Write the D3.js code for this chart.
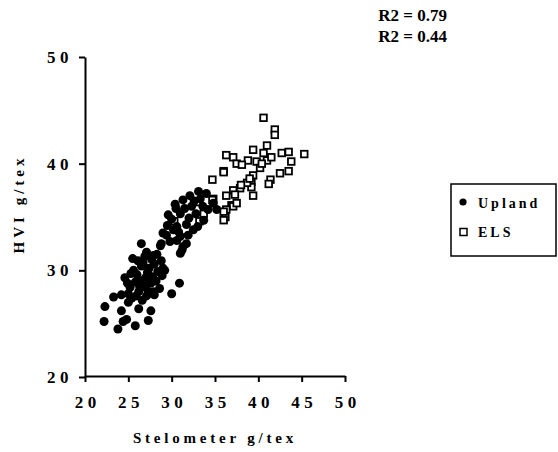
<!DOCTYPE html>
<html>
<head>
<meta charset="utf-8">
<script src="https://cdn.jsdelivr.net/npm/d3@7"></script>
<style>
  html, body { margin: 0; padding: 0; background: #fff; }
  svg text { font-family: "Liberation Serif", "DejaVu Serif", serif; font-weight: bold; fill: #000; }
</style>
</head>
<body>
<svg id="chart" width="558" height="452"></svg>
<script>
// Stelometer (x) vs HVI (y) bundle strength, g/tex
const uplandX = [22.2,22.3,23.3,23.8,24.2,24.4,24.8,25.8,27.3,27.6,26.2,25.0,25.4,24.2,25.0,26.2,27.3,27.9,30.0,30.9,
  24.6,25.2,25.6,25.5,25.8,26.0,26.3,26.5,26.7,26.8,27.0,27.2,27.4,27.6,27.8,28.0,28.2,28.4,28.6,28.8,29.2,25.9,26.6,27.1,28.0,26.9,27.7,28.3,24.9,25.3,26.1,27.0,27.5,28.9,26.4,
  26.5,27.1,27.9,28.7,31.0,29.0,29.4,30.6,31.2,31.7,29.0,29.6,31.3,33.1,34.0,32.3,31.0,30.6,31.7,32.5,33.7,34.2,28.8,29.8,31.0,31.3,33.3,34.8,35.2,30.2,30.0,30.5,31.5,32.0,32.8,33.0,32.1,30.4,29.5,30.8,31.9,33.6,32.6];
const uplandY = [25.2,26.6,27.5,24.5,26.2,25.2,25.4,24.8,25.3,26.2,26.4,27.0,27.4,27.7,27.8,28.0,28.0,28.0,27.8,28.8,
  29.3,28.4,30.0,31.1,28.9,29.6,28.5,30.4,30.7,29.1,28.4,29.8,30.2,28.8,29.4,30.6,29.0,29.9,28.3,30.9,30.0,27.6,27.2,27.6,27.7,31.3,31.0,31.5,28.8,29.7,30.9,29.3,27.9,29.5,29.0,
  32.5,31.7,31.4,32.3,31.6,30.2,33.3,32.8,31.9,32.5,33.5,35.2,36.6,37.4,37.2,36.0,35.3,34.1,34.3,33.8,34.7,35.7,32.5,32.7,33.2,32.2,36.7,36.3,35.7,33.8,34.8,35.8,35.8,34.9,35.3,34.1,37.0,36.2,34.2,33.6,33.3,36.0,36.5];

const elsX = [40.6,41.9,41.9,41.0,39.4,42.7,43.5,45.3,43.8,36.3,37.1,37.5,38.8,39.8,41.0,41.5,40.6,40.2,38.1,36.0,39.4,42.5,43.5,39.2,41.4,41.2,34.7,39.2,37.1,37.9,36.3,37.3,39.4,34.8,36.9,37.1,36.3,36.2,38.7,39.0,30.3,33.2,33.7,32.9,34.7,36.0,36.0,36.0,37.5,38.0,40.4];
const elsY = [44.3,43.2,42.7,41.7,41.3,41.0,41.1,40.9,40.2,40.8,40.6,40.0,40.3,40.2,40.3,40.6,41.0,39.6,39.9,39.3,38.9,39.1,39.3,38.3,38.5,38.1,38.5,37.8,37.5,37.7,37.0,37.1,37.0,36.7,36.1,36.0,35.7,35.0,38.2,38.6,34.6,34.6,35.3,36.4,36.6,35.5,34.7,39.2,36.3,38.0,40.0];

const xTicks = [20, 25, 30, 35, 40, 45, 50];
const yTicks = [20, 30, 40, 50];
const seriesNames = ["Upland", "ELS"];
const r2Labels = ["R2 = 0.79", "R2 = 0.44"];

const serif = "'Liberation Serif', 'DejaVu Serif', serif";
const svg = d3.select("#chart");
const x = d3.scaleLinear().domain([20, 50]).range([85, 345]);
const y = d3.scaleLinear().domain([20, 50]).range([377, 57]);

// axes
const xAxis = svg.append("g").attr("transform", "translate(0,376)")
  .call(d3.axisBottom(x).tickValues(xTicks).tickSize(6).tickSizeOuter(0).tickFormat(d3.format("d")));
const yAxis = svg.append("g").attr("transform", "translate(85,0)")
  .call(d3.axisLeft(y).tickValues(yTicks).tickSize(6).tickSizeOuter(0).tickFormat(d3.format("d")));

[xAxis, yAxis].forEach(g => {
  g.attr("font-family", serif).attr("font-weight", "bold");
  g.select(".domain").attr("stroke", "#000").attr("stroke-width", 2);
  g.selectAll(".tick line").attr("stroke", "#000").attr("stroke-width", 2);
  g.selectAll(".tick text")
    .attr("font-family", serif)
    .style("font-family", serif)
    .style("font-weight", "bold").style("font-size", "17px")
    .style("letter-spacing", "4.5px").attr("fill", "#000");
});
xAxis.selectAll(".tick text").attr("y", 20).attr("dx", "2.2px");
yAxis.selectAll(".tick text").attr("x", -12);

// axis titles
svg.append("text").attr("x", 215).attr("y", 443).attr("text-anchor", "middle")
  .style("font-family", serif).style("font-size", "15px").style("letter-spacing", "3.8px")
  .text("Stelometer g/tex");
svg.append("text").attr("transform", "translate(24,204) rotate(-90)").attr("text-anchor", "middle")
  .style("font-family", serif).style("font-size", "15px").style("letter-spacing", "4px")
  .text("HVI g/tex");

// ELS squares (drawn first, Upland dots overlay them)
const sq = 6.6;
svg.append("g").selectAll("rect").data(d3.range(elsX.length)).join("rect")
  .attr("x", i => x(elsX[i]) - sq / 2).attr("y", i => y(elsY[i]) - sq / 2)
  .attr("width", sq).attr("height", sq)
  .attr("fill", "#fff").attr("stroke", "#000").attr("stroke-width", 1.8);

svg.append("g").selectAll("circle").data(d3.range(uplandX.length)).join("circle")
  .attr("cx", i => x(uplandX[i])).attr("cy", i => y(uplandY[i])).attr("r", 4.5)
  .attr("fill", "#000");

// R2 labels
r2Labels.forEach((t, i) => {
  svg.append("text").attr("x", 447).attr("y", 20.5 + i * 21).attr("text-anchor", "end")
    .style("font-family", serif).style("font-size", "17px").text(t);
});

// legend
const lg = svg.append("g");
lg.append("rect").attr("x", 451).attr("y", 184).attr("width", 105).attr("height", 72)
  .attr("fill", "#fff").attr("stroke", "#000").attr("stroke-width", 1.5);
lg.append("circle").attr("cx", 463).attr("cy", 202).attr("r", 3.6).attr("fill", "#000");
lg.append("rect").attr("x", 460).attr("y", 228.5).attr("width", 7).attr("height", 7)
  .attr("fill", "#fff").attr("stroke", "#000").attr("stroke-width", 1.5);
seriesNames.forEach((n, i) => {
  lg.append("text").attr("x", 478).attr("y", 207.5 + i * 29.5)
    .style("font-family", serif).style("font-size", "14px").style("letter-spacing", "3px").text(n);
});
</script>
</body>
</html>
